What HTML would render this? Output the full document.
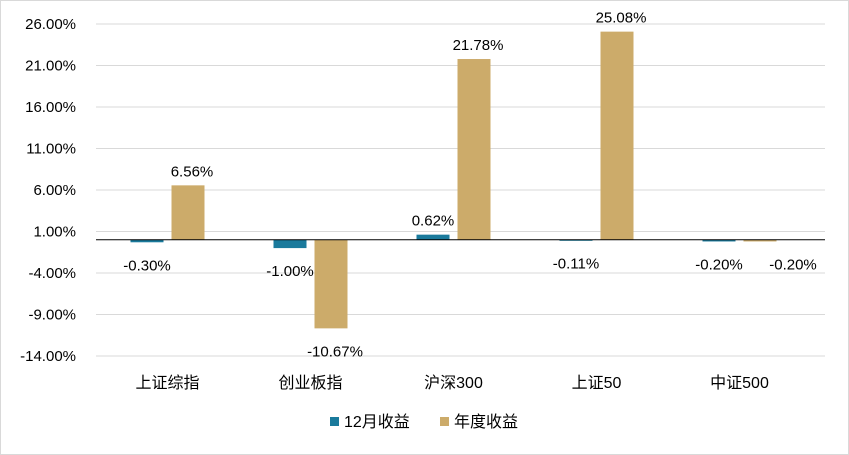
<!DOCTYPE html>
<html><head><meta charset="utf-8"><style>
body{margin:0;background:#fff}
svg{display:block;font-family:"Liberation Sans","Noto Sans CJK SC",sans-serif}
</style></head><body>
<svg id="c" width="849" height="455">
<rect x="0.5" y="0.5" width="848" height="454" fill="#fff" stroke="#d9d9d9"/>
</svg>
<script>
const categories=["上证综指","创业板指","沪深300","上证50","中证500"];
const monthly=[-0.30,-1.00,0.62,-0.11,-0.20];
const yearly=[6.56,-10.67,21.78,25.08,-0.20];
const ticks=[26,21,16,11,6,1,-4,-9,-14];
const ns="http://www.w3.org/2000/svg";
const svg=document.getElementById('c');
const x0=96,x1=825,yTop=24,yBot=356,bw=143;
const y=v=>yTop+(26-v)*(yBot-yTop)/40;
function mk(t,a,p){const e=document.createElementNS(ns,t);for(const k in a)e.setAttribute(k,a[k]);(p||svg).appendChild(e);return e;}
ticks.forEach(t=>{
 const g=mk('line',{x1:x0,x2:x1,y1:y(t),y2:y(t),stroke:'#d9d9d9'});
 
 
 const l=mk('text',{x:76,y:y(t)+5,'text-anchor':'end','font-size':15,fill:'#000'});
 l.textContent=t.toFixed(2)+'%';
 
 
});
function bar(v,xl,color,name,labelDx){
 const top=Math.min(y(v),y(0)),h=Math.abs(y(v)-y(0));
 const r=mk('rect',{x:xl,y:top,width:33,height:Math.max(h,1),fill:color});
 
 
 const t=mk('text',{x:xl+16.5+labelDx,y:v>=0?y(v)-9:y(v)+28,'text-anchor':'middle','font-size':15,fill:'#000'});
 t.textContent=v.toFixed(2)+'%';
 
 
}
categories.forEach((c,i)=>{
 const cx=x0+bw*(i+0.5);
 bar(monthly[i],cx-37,'#1a7a9c','bar-monthly',0);
 const overlap=Math.abs(yearly[i]-monthly[i])<3;
 bar(yearly[i],cx+4,'#ccab6a','bar-yearly',overlap?33:4);
 const t=mk('text',{x:cx,y:388,'text-anchor':'middle','font-size':16,fill:'#000'});
 t.textContent=c;
 
 
});
const z=mk('line',{x1:x0,x2:x1,y1:y(0),y2:y(0),stroke:'#000','stroke-width':1});


[[330,'#1a7a9c','12月收益'],[440,'#ccab6a','年度收益']].forEach(([lx,col,txt])=>{
 const g=mk('g',{});
 
 
 mk('rect',{x:lx,y:417,width:9,height:9,fill:col},g);
 const t=mk('text',{x:lx+14,y:427,'font-size':16,fill:'#000'},g);t.textContent=txt;
});
</script>
</body></html>
